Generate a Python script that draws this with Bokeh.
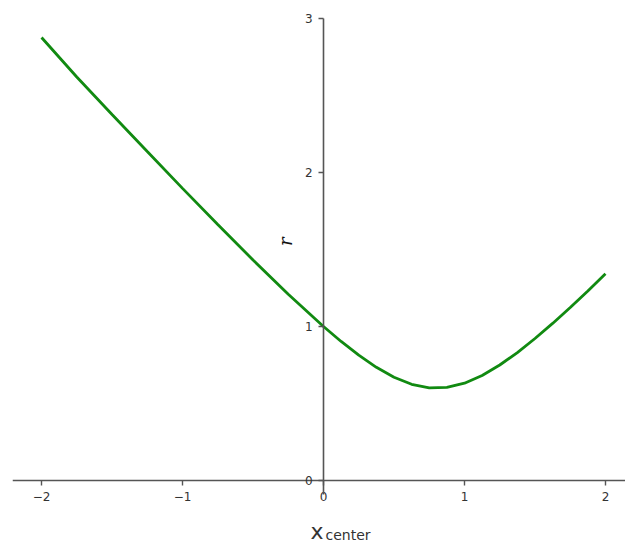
import math

from bokeh.embed import file_html
from bokeh.models import ColumnDataSource, FixedTicker, Label, Range1d
from bokeh.plotting import figure
from bokeh.resources import INLINE

# Distance r as a function of the center position x_center
x_center = [-2.0, -1.75, -1.5, -1.25, -1.0, -0.75, -0.5, -0.25, 0.0,
            0.125, 0.25, 0.375, 0.5, 0.625, 0.75, 0.875, 1.0, 1.125,
            1.25, 1.375, 1.5, 1.625, 1.75, 1.875, 2.0]
r_values = [2.877, 2.620, 2.377, 2.136, 1.897, 1.662, 1.432, 1.209, 1.000,
            0.903, 0.814, 0.735, 0.671, 0.625, 0.602, 0.605, 0.632, 0.682,
            0.750, 0.831, 0.922, 1.020, 1.124, 1.231, 1.342]

x_ticks = [-2, -1, 0, 1, 2]
y_ticks = [0, 1, 2, 3]

AXIS_COLOR = "#555555"
TEXT_COLOR = "#333333"

p = figure(
    width=625, height=543,
    output_backend="svg", toolbar_location=None,
    x_range=Range1d(-2.206, 2.142), y_range=Range1d(-0.409, 3.117),
    min_border_left=12, min_border_right=0,
    min_border_top=0, min_border_bottom=0,
)
p.outline_line_color = None
p.grid.visible = False
p.background_fill_color = "white"
p.border_fill_color = "white"

src = ColumnDataSource(data=dict(x=x_center, r=r_values))
p.line("x", "r", source=src, line_color="#118a11", line_width=2.8)

# Spines crossing at the origin
for ax in (p.xaxis[0], p.yaxis[0]):
    ax.fixed_location = 0
    ax.axis_line_color = AXIS_COLOR
    ax.axis_line_width = 1.6
    ax.major_tick_line_color = AXIS_COLOR
    ax.major_tick_line_width = 1.4
    ax.major_tick_in = 0
    ax.major_tick_out = 5
    ax.minor_tick_line_color = None
    ax.major_label_text_color = TEXT_COLOR
    ax.major_label_text_font = "DejaVu Sans"
    ax.major_label_text_font_size = "12px"
    ax.axis_label = None

p.xaxis[0].ticker = FixedTicker(ticks=x_ticks)
p.yaxis[0].ticker = FixedTicker(ticks=y_ticks)
p.yaxis[0].bounds = (-0.09, 3.0)
p.xaxis[0].major_label_standoff = 6
p.yaxis[0].major_label_standoff = 6
p.xaxis[0].major_label_overrides = {-2: "\u22122", -1: "\u22121"}

# Axis labels
p.add_layout(Label(x=0, y=-0.33, text="x", text_font="DejaVu Sans",
                   text_font_size="22px", text_color=TEXT_COLOR,
                   text_align="right", x_offset=0, text_baseline="alphabetic"))
p.add_layout(Label(x=0, y=-0.33, text="center", text_font="DejaVu Sans",
                   text_font_size="14px", text_color=TEXT_COLOR,
                   text_align="left", x_offset=2, y_offset=-4,
                   text_baseline="alphabetic"))
p.add_layout(Label(x=-0.27, y=1.55, text="r", text_font="DejaVu Serif",
                   text_font_style="italic", text_font_size="18px",
                   text_color="#111111", angle=math.pi / 2,
                   text_align="center", text_baseline="middle"))

open("out.html", "w").write(file_html(p, INLINE))
